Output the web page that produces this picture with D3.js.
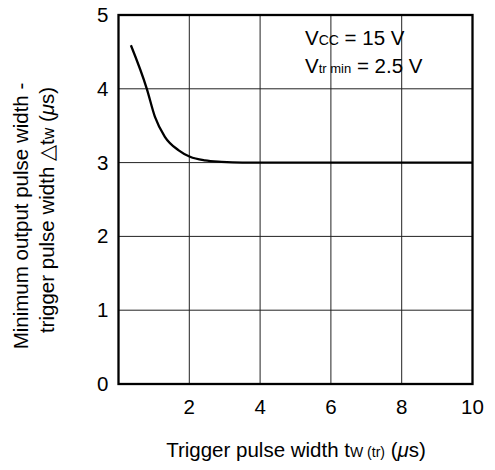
<html>
<head>
<script src="https://d3js.org/d3.v7.min.js"></script>
<style>
  body { margin: 0; background: #fff; }
  text { font-family: "Liberation Sans", Arial, sans-serif; fill: #000; }
</style>
</head>
<body>
<script>
  const width = 495;
  const height = 470;

  // data
  const pulseWidth = [0.35, 0.8, 1.03, 1.31, 1.69, 2.02, 2.44, 2.91, 3.5, 5, 7, 10];
  const deltaTw   = [4.59, 4.0, 3.62, 3.35, 3.17, 3.08, 3.03, 3.01, 3.0, 3.0, 3.0, 3.0];
  const xTicks = [2, 4, 6, 8, 10];
  const yTicks = [0, 1, 2, 3, 4, 5];

  const plotL = 118.5, plotR = 472.5, plotT = 15, plotB = 384;
  const fs = 20.5;

  const x = d3.scaleLinear().domain([0, 10]).range([plotL, plotR]);
  const y = d3.scaleLinear().domain([0, 5]).range([plotB, plotT]);

  const svg = d3.select("body")
    .append("svg")
    .attr("width", width)
    .attr("height", height);

  // grid lines
  svg.append("g")
    .selectAll("line")
    .data(xTicks.filter(d => d < 10))
    .join("line")
    .attr("x1", d => x(d)).attr("x2", d => x(d))
    .attr("y1", plotT).attr("y2", plotB)
    .attr("stroke", "#222").attr("stroke-width", 1);

  svg.append("g")
    .selectAll("line")
    .data(yTicks.filter(d => d > 0 && d < 5))
    .join("line")
    .attr("x1", plotL).attr("x2", plotR)
    .attr("y1", d => y(d)).attr("y2", d => y(d))
    .attr("stroke", "#222").attr("stroke-width", 1);

  // the curve
  const pts = pulseWidth.map((d, i) => [d, deltaTw[i]]);
  const line = d3.line()
    .x(d => x(d[0]))
    .y(d => y(d[1]))
    .curve(d3.curveMonotoneX);

  svg.append("path")
    .attr("d", line(pts))
    .attr("fill", "none")
    .attr("stroke", "#000")
    .attr("stroke-width", 2.3);

  // frame
  svg.append("rect")
    .attr("x", plotL).attr("y", plotT)
    .attr("width", plotR - plotL).attr("height", plotB - plotT)
    .attr("fill", "none")
    .attr("stroke", "#000").attr("stroke-width", 2.3);

  // tick labels
  svg.append("g")
    .selectAll("text")
    .data(xTicks)
    .join("text")
    .attr("x", d => x(d))
    .attr("y", 414)
    .attr("text-anchor", "middle")
    .attr("font-size", fs)
    .text(d => d);

  svg.append("g")
    .selectAll("text")
    .data(yTicks)
    .join("text")
    .attr("x", 108.5)
    .attr("y", d => y(d) + 7)
    .attr("text-anchor", "end")
    .attr("font-size", fs)
    .text(d => d);

  // x axis title
  const xt = svg.append("text")
    .attr("x", 296).attr("y", 457)
    .attr("text-anchor", "middle")
    .attr("font-size", fs);
  xt.append("tspan").text("Trigger pulse width t");
  xt.append("tspan").attr("font-size", 14).text("W (tr)");
  xt.append("tspan").text(" (");
  xt.append("tspan").attr("font-style", "italic").text("\u03bc");
  xt.append("tspan").text("s)");

  // y axis title, two lines
  svg.append("text")
    .attr("transform", "translate(28,216) rotate(-90)")
    .attr("text-anchor", "middle")
    .attr("font-size", fs)
    .text("Minimum output pulse width -");

  const yt2 = svg.append("text")
    .attr("transform", "translate(54,210) rotate(-90)")
    .attr("text-anchor", "middle")
    .attr("font-size", fs);
  yt2.append("tspan").text("trigger pulse width  \u25b3t");
  yt2.append("tspan").attr("font-size", 16).text("w");
  yt2.append("tspan").text(" (");
  yt2.append("tspan").attr("font-style", "italic").text("\u03bc");
  yt2.append("tspan").text("s)");

  // conditions
  const c1 = svg.append("text")
    .attr("x", 305).attr("y", 45)
    .attr("font-size", fs);
  c1.append("tspan").text("V");
  c1.append("tspan").attr("font-size", 14).text("CC");
  c1.append("tspan").text(" = 15 V");

  const c2 = svg.append("text")
    .attr("x", 305).attr("y", 73)
    .attr("font-size", fs);
  c2.append("tspan").text("V");
  c2.append("tspan").attr("font-size", 13).text("tr min");
  c2.append("tspan").text(" = 2.5 V");
</script>
</body>
</html>
